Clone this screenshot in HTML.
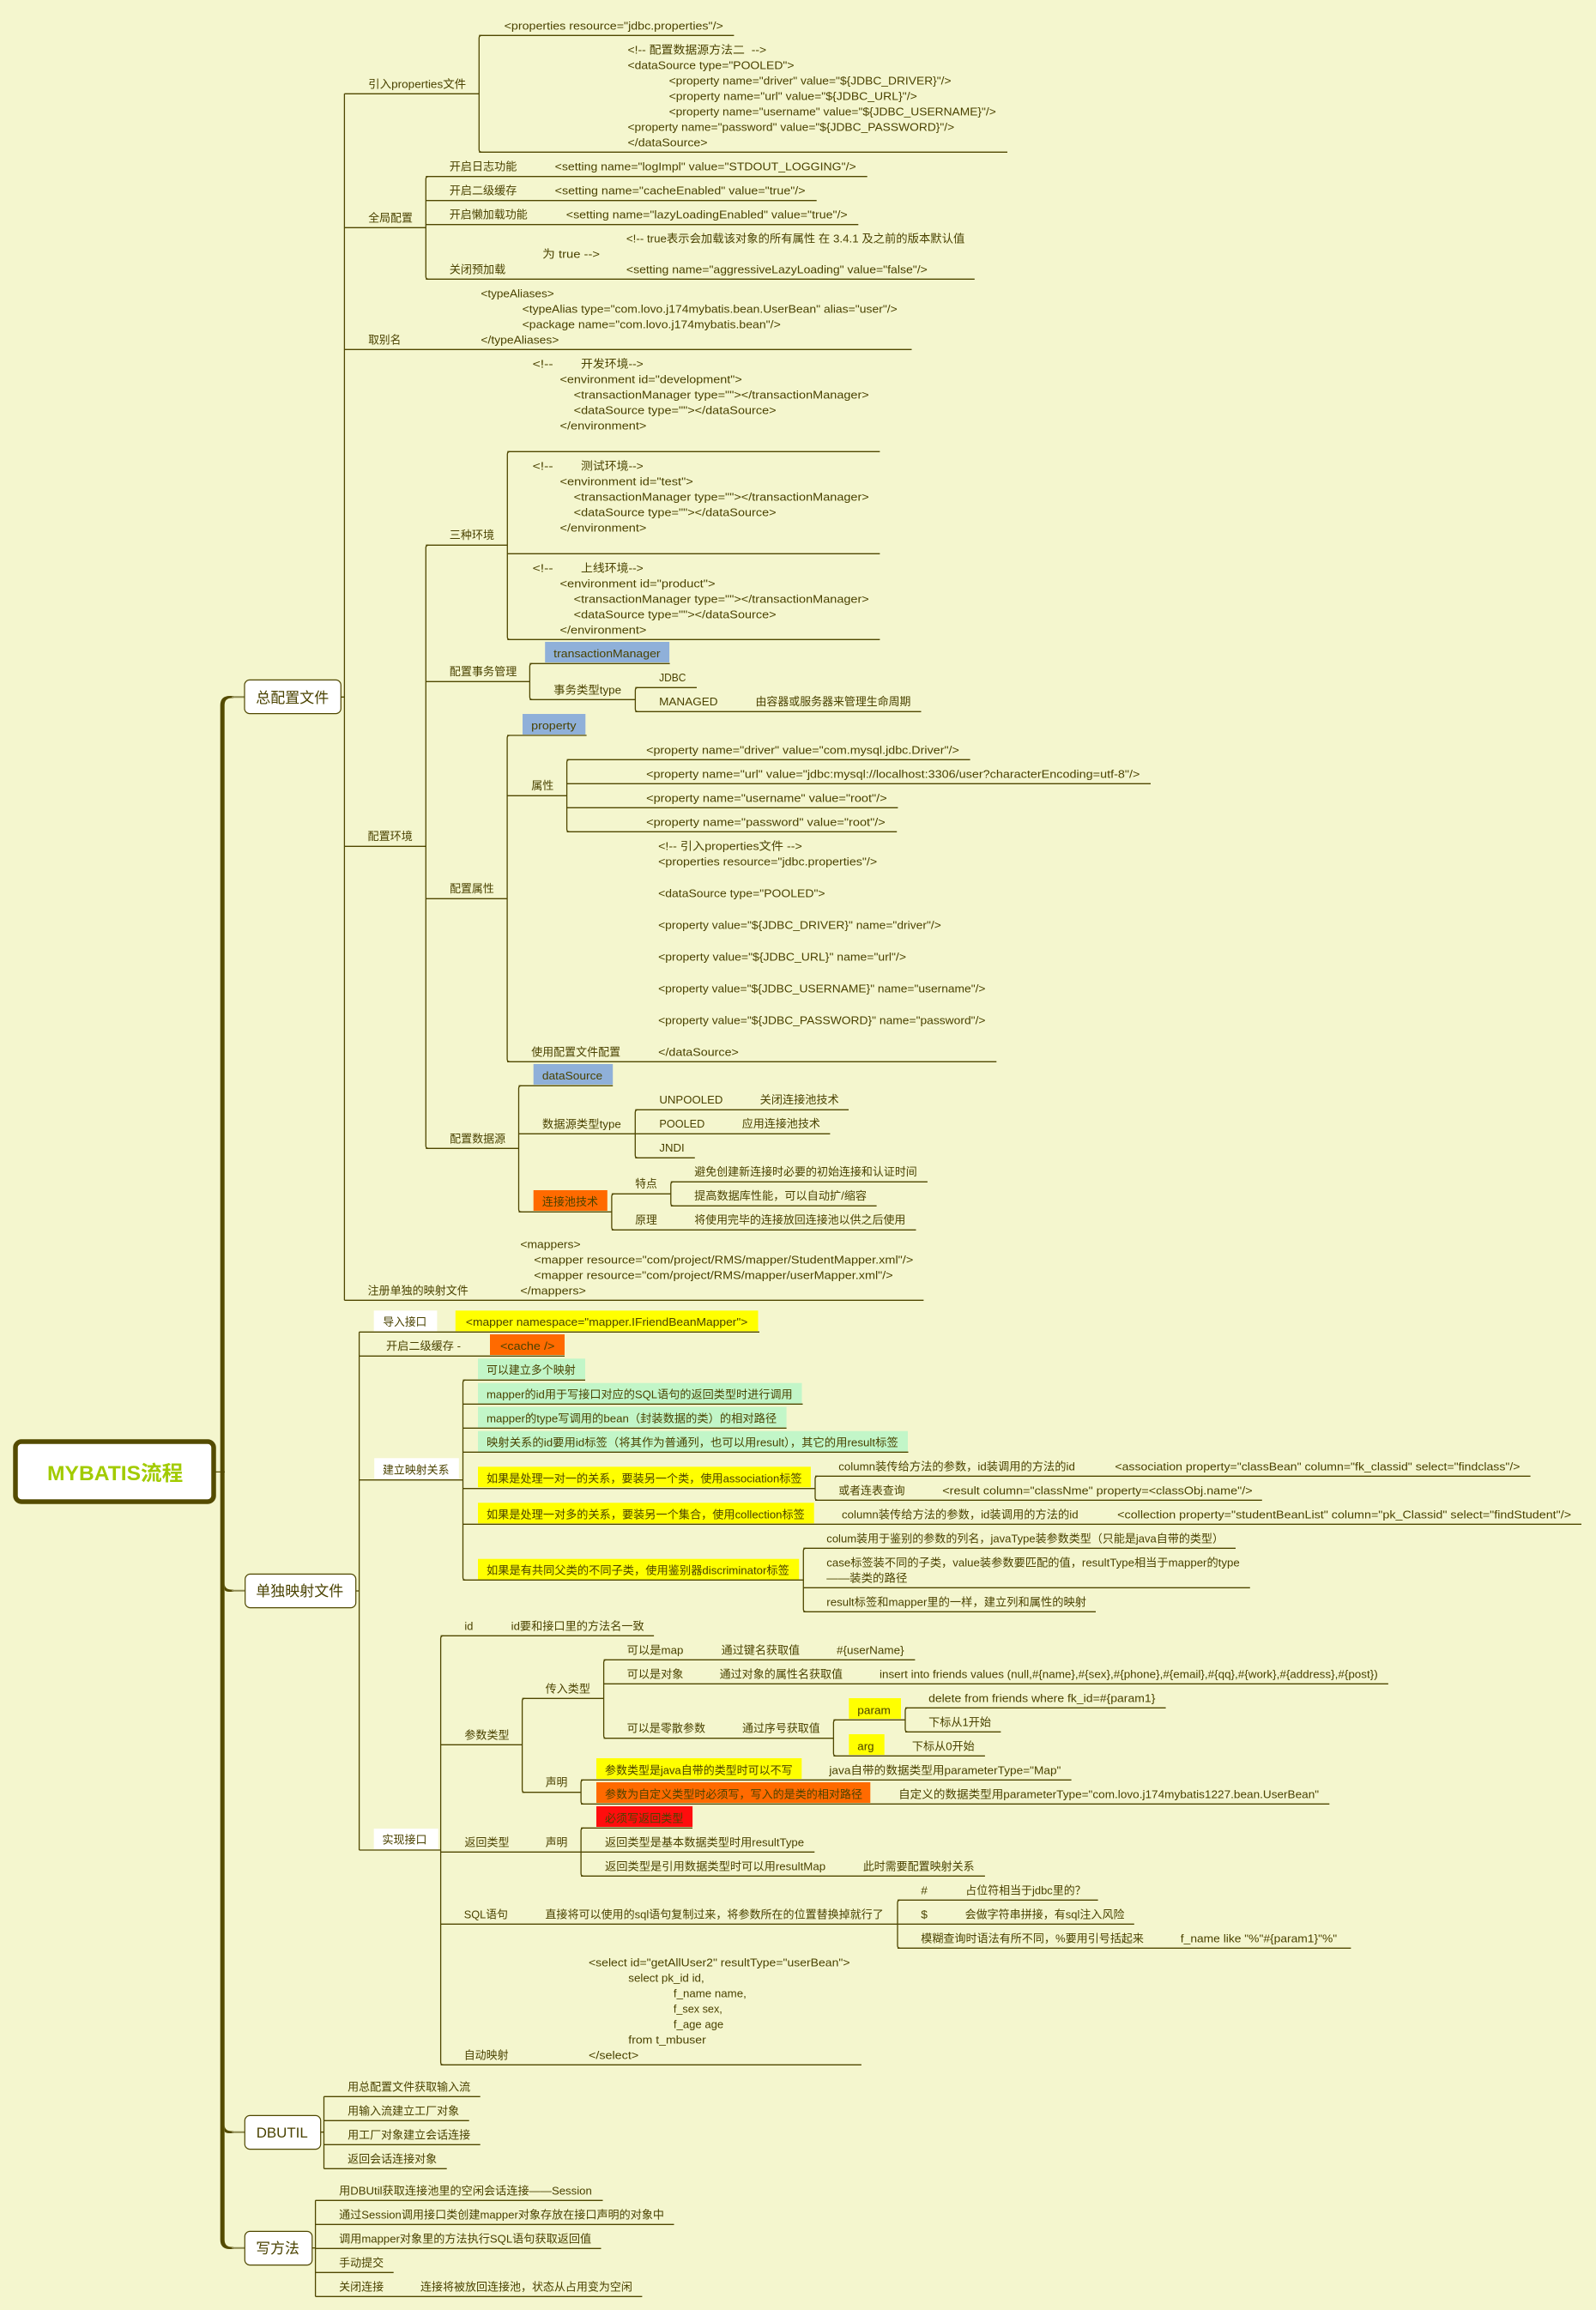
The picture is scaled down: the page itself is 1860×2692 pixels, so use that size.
<!DOCTYPE html>
<html lang="zh">
<head>
<meta charset="utf-8">
<title>MYBATIS流程</title>
<style>
html,body{margin:0;padding:0;background:#f4f6ce;}
svg{display:block;position:absolute;left:0;top:0;}
text{font-family:"Liberation Sans","Noto Sans CJK SC",sans-serif;font-size:13px;fill:#4a4200;}
.t{font-size:17px;}
.r{font-size:24px;font-weight:bold;fill:#a2cb00;}
</style>
</head>
<body>
<svg xmlns="http://www.w3.org/2000/svg" width="1860" height="2692" viewBox="0 0 1860 2692">
<rect width="1860" height="2692" fill="#f4f6ce"/>

<!-- thick main trunk -->
<path d="M256.7 822Q256.7 811 268 811L272 811V813.5L270 813.5Q261.7 813.5 261.7 822V2610Q261.7 2618.5 270 2618.5L272 2618.5V2621L268 2621Q256.7 2621 256.7 2610Z" fill="#544b00"/>
<path d="M261.7 1845Q261.7 1852.5 270 1852.5L272 1852.5V1855L268 1855Q261.7 1855 261.7 1852ZM261.7 2476Q261.7 2483.5 270 2483.5L272 2483.5V2486L268 2486Q261.7 2486 261.7 2483Z" fill="#544b00"/>
<path d="M270 812.2H285M270 1853.7H286M270 2484.7H285M270 2619.7H285" stroke="#8b8850" stroke-width="2" fill="none"/>

<!-- root -->
<rect x="18" y="1680" width="231" height="70" rx="7" fill="#fff" stroke="#544b00" stroke-width="5.5"/>
<path d="M251 1715.3H262" stroke="#4f4700" stroke-width="1.2" fill="none"/>
<text class="r" x="55" y="1725" textLength="158.3" lengthAdjust="spacingAndGlyphs">MYBATIS流程</text>

<!-- main boxes -->
<g fill="#fff" stroke="#4f4700" stroke-width="1.2">
<rect x="285" y="792.4" width="112.3" height="39.2" rx="6"/>
<rect x="285.7" y="1834.4" width="129" height="39.2" rx="6"/>
<rect x="285.3" y="2465.4" width="88.4" height="39.2" rx="6"/>
<rect x="285.3" y="2600.4" width="78.5" height="39.2" rx="6"/>
</g>

<!-- filled label boxes -->
<g fill="#8fb0d9">
<rect x="635.2" y="748" width="144.9" height="24"/>
<rect x="609" y="832" width="73.3" height="24"/>
<rect x="621.7" y="1240" width="92.5" height="24"/>
</g>
<g fill="#ff6a00">
<rect x="621.7" y="1387" width="86.1" height="24"/>
<rect x="571" y="1555" width="87" height="24"/>
<rect x="695" y="2077" width="319.3" height="24"/>
</g>
<g fill="#ffff00">
<rect x="530.8" y="1527.3" width="352.7" height="24"/>
<rect x="557" y="1709.3" width="387.9" height="24"/>
<rect x="557" y="1751.3" width="391.7" height="24"/>
<rect x="557" y="1816.7" width="374.2" height="24"/>
<rect x="989.3" y="1979" width="60.7" height="24"/>
<rect x="989.3" y="2021" width="41.4" height="24"/>
<rect x="695" y="2049" width="239.3" height="24"/>
</g>
<g fill="#c2f6c8">
<rect x="557" y="1583.3" width="125" height="24"/>
<rect x="557" y="1611.7" width="377.5" height="24"/>
<rect x="557" y="1639.5" width="359.6" height="24"/>
<rect x="557" y="1667.7" width="501" height="24"/>
</g>
<rect x="695" y="2105" width="112.1" height="24" fill="#ff0d0d"/>
<g fill="#fff">
<rect x="435.7" y="1527.3" width="73.7" height="24"/>
<rect x="436.2" y="1699.3" width="98.6" height="24"/>
<rect x="435.7" y="2131" width="75" height="24"/>
</g>

<!-- connectors -->
<g fill="none" stroke="#4f4700" stroke-width="1.3">
<!-- box stubs and square trunks -->
<path d="M397.3 812.3H401.4M414.7 1854H418.5M373.7 2484.7H377.5M363.8 2619.7H367.6"/>
<path d="M401.4 109.3V1515.3M418.6 1552.3V2156M377.5 2443.3V2527.3M367.6 2564.3V2676.3"/>
<!-- level 1 total config -->
<path d="M401.4 109.3H558.3M401.4 265.3H496.3M401.4 407.3H1062.5M401.4 986.3H496.3M401.4 1515.3H1076.4"/>
<!-- rounded trunks -->
<path d="M561.3 41.3Q558.3 41.3 558.3 44.3V174.3Q558.3 177.3 561.3 177.3"/>
<path d="M499.3 205.7Q496.3 205.7 496.3 208.7V322.3Q496.3 325.3 499.3 325.3"/>
<path d="M499.3 635.3Q496.3 635.3 496.3 638.3V1335.3Q496.3 1338.3 499.3 1338.3"/>
<path d="M594.3 526.3Q591.3 526.3 591.3 529.3V742.3Q591.3 745.3 594.3 745.3"/>
<path d="M620.4 773.3Q617.4 773.3 617.4 776.3V812.3Q617.4 815.3 620.4 815.3"/>
<path d="M743.4 801.3Q740.4 801.3 740.4 804.3V826.3Q740.4 829.3 743.4 829.3"/>
<path d="M594.1 857Q591.1 857 591.1 860V1234.3Q591.1 1237.3 594.1 1237.3"/>
<path d="M663.6 885.3Q660.6 885.3 660.6 888.3V966.3Q660.6 969.3 663.6 969.3"/>
<path d="M607.5 1265.3Q604.5 1265.3 604.5 1268.3V1409.3Q604.5 1412.3 607.5 1412.3"/>
<path d="M743.3 1293.3Q740.3 1293.3 740.3 1296.3V1346.3Q740.3 1349.3 743.3 1349.3"/>
<path d="M715.9 1391.3Q712.9 1391.3 712.9 1394.3V1430.3Q712.9 1433.3 715.9 1433.3"/>
<path d="M784.8 1377.3Q781.8 1377.3 781.8 1380.3V1402.3Q781.8 1405.3 784.8 1405.3"/>
<path d="M542.5 1608.3Q539.5 1608.3 539.5 1611.3V1838.3Q539.5 1841.3 542.5 1841.3"/>
<path d="M953 1720.3Q950 1720.3 950 1723.3V1745.3Q950 1748.3 953 1748.3"/>
<path d="M939.3 1804.3Q936.3 1804.3 936.3 1807.3V1875.3Q936.3 1878.3 939.3 1878.3"/>
<path d="M516.6 1906.3Q513.6 1906.3 513.6 1909.3V2403.3Q513.6 2406.3 516.6 2406.3"/>
<path d="M611.6 1979.3Q608.6 1979.3 608.6 1982.3V2085.7Q608.6 2088.7 611.6 2088.7"/>
<path d="M706.6 1934.3Q703.6 1934.3 703.6 1937.3V2022.7Q703.6 2025.7 706.6 2025.7"/>
<path d="M974.4 2004.3Q971.4 2004.3 971.4 2007.3V2043.3Q971.4 2046.3 974.4 2046.3"/>
<path d="M1058 1990.3Q1055 1990.3 1055 1993.3V2015.3Q1055 2018.3 1058 2018.3"/>
<path d="M680.1 2074.3Q677.1 2074.3 677.1 2077.3V2099.3Q677.1 2102.3 680.1 2102.3"/>
<path d="M680.1 2130.3Q677.1 2130.3 677.1 2133.3V2183.3Q677.1 2186.3 680.1 2186.3"/>
<path d="M1049 2214.3Q1046 2214.3 1046 2217.3V2267.3Q1046 2270.3 1049 2270.3"/>
<!-- horizontals -->
<path d="M558.3 41.3H855.4M558.3 177.3H1174"/>
<path d="M496.3 205.7H1010.7M496.3 233.7H951.7M496.3 261.7H1000.3M496.3 325.3H1135.8"/>
<path d="M496.3 635.3H591.3M591.3 526.3H1025.4M591.3 645.3H1025.4M591.3 745.3H1025.4"/>
<path d="M496.3 794.3H617.4M617.4 773.3H780.6M617.4 815.3H740.4M740.4 801.3H812M740.4 829.3H1073.5"/>
<path d="M496.3 1047.3H591.1M591.1 857H683.6M591.1 927.3H660.6M660.6 885.3H1130.6M660.6 913.3H1341M660.6 941.3H1046.4M660.6 969.3H1045.2M591.1 1237.3H1161.3"/>
<path d="M496.3 1338.3H604.5M604.5 1265.3H714.2M604.5 1321.3H740.3M740.3 1293.3H989M740.3 1321.3H967.4M740.3 1349.3H809.8"/>
<path d="M604.5 1412.3H712.9M712.9 1391.3H781.8M781.8 1377.3H1080.9M781.8 1405.3H1021.6M712.9 1433.3H1067.5"/>
<path d="M418.6 1552.3H885M418.6 1580.3H658M418.6 1724.7H539.5"/>
<path d="M539.5 1608.3H682M539.5 1636.3H935.5M539.5 1664.3H916.6M539.5 1692.3H1058.5M539.5 1734.7H950M539.5 1776.3H1843M539.5 1841.3H936.3"/>
<path d="M950 1720.3H1783.6M950 1748.3H1470.8M936.3 1804.3H1440M936.3 1850.3H1456.8M936.3 1878.3H1277"/>
<path d="M418.6 2156H513.6"/>
<path d="M513.6 1906.3H762.1M513.6 2033.3H608.6M608.6 1979.3H703.6M703.6 1934.3H1066.4M703.6 1962.3H1617.9M703.6 2025.7H971.4M971.4 2004.3H1055M1055 1990.3H1358.6M1055 2018.3H1166.4M971.4 2046.3H1147.9"/>
<path d="M608.6 2088.7H677.1M677.1 2074.3H1248.6M677.1 2102.3H1549.3M677.1 2130.3H807M513.6 2158.3H949.3M677.1 2186.3H1147.9"/>
<path d="M513.6 2242.3H1046M1046 2214.3H1279.6M1046 2242.3H1321.8M1046 2270.3H1574.4M513.6 2406.3H1003.9"/>
<path d="M377.5 2443.3H559.7M377.5 2471.3H546.7M377.5 2499.3H559.7M377.5 2527.3H520.7"/>
<path d="M367.6 2564.3H702.5M367.6 2592.3H785.5M367.6 2620.3H700.5M367.6 2648.3H458.7M367.6 2676.3H748.4"/>
</g>

<!-- main labels -->
<text class="t" x="298.3" y="819" textLength="85" lengthAdjust="spacingAndGlyphs">总配置文件</text>
<text class="t" x="298.3" y="1860" textLength="102" lengthAdjust="spacingAndGlyphs">单独映射文件</text>
<text class="t" x="298.7" y="2491" textLength="60.1" lengthAdjust="spacingAndGlyphs">DBUTIL</text>
<text class="t" x="298.3" y="2626" textLength="50.5" lengthAdjust="spacingAndGlyphs">写方法</text>

<!-- section 1 -->
<text x="587.6" y="34.3" textLength="255.3" lengthAdjust="spacingAndGlyphs">&lt;properties resource="jdbc.properties"/&gt;</text>
<text x="429.2" y="102.3" textLength="114" lengthAdjust="spacingAndGlyphs">引入properties文件</text>
<text x="731.5" y="62.3" textLength="161.6" lengthAdjust="spacingAndGlyphs">&lt;!-- 配置数据源方法二 &#160;--&gt;</text>
<text x="731.5" y="80.3" textLength="194" lengthAdjust="spacingAndGlyphs">&lt;dataSource type="POOLED"&gt;</text>
<text x="779.6" y="98.3" textLength="329" lengthAdjust="spacingAndGlyphs">&lt;property name="driver" value="${JDBC_DRIVER}"/&gt;</text>
<text x="779.6" y="116.3" textLength="289.2" lengthAdjust="spacingAndGlyphs">&lt;property name="url" value="${JDBC_URL}"/&gt;</text>
<text x="779.6" y="134.3" textLength="381.2" lengthAdjust="spacingAndGlyphs">&lt;property name="username" value="${JDBC_USERNAME}"/&gt;</text>
<text x="731.5" y="152.3" textLength="380.7" lengthAdjust="spacingAndGlyphs">&lt;property name="password" value="${JDBC_PASSWORD}"/&gt;</text>
<text x="731.5" y="170.3" textLength="93.1" lengthAdjust="spacingAndGlyphs">&lt;/dataSource&gt;</text>

<text x="429.2" y="258.3" textLength="51.7" lengthAdjust="spacingAndGlyphs">全局配置</text>
<text x="523.8" y="198.3" textLength="78.5" lengthAdjust="spacingAndGlyphs">开启日志功能</text>
<text x="646.7" y="198.3" textLength="351" lengthAdjust="spacingAndGlyphs">&lt;setting name="logImpl" value="STDOUT_LOGGING"/&gt;</text>
<text x="523.8" y="226.3" textLength="78.5" lengthAdjust="spacingAndGlyphs">开启二级缓存</text>
<text x="646.7" y="226.3" textLength="291.9" lengthAdjust="spacingAndGlyphs">&lt;setting name="cacheEnabled" value="true"/&gt;</text>
<text x="523.8" y="254.3" textLength="91" lengthAdjust="spacingAndGlyphs">开启懒加载功能</text>
<text x="659.8" y="254.3" textLength="327.9" lengthAdjust="spacingAndGlyphs">&lt;setting name="lazyLoadingEnabled" value="true"/&gt;</text>
<text x="729.9" y="282.3" textLength="394.4" lengthAdjust="spacingAndGlyphs">&lt;!-- true表示会加载该对象的所有属性 在 3.4.1 及之前的版本默认值</text>
<text x="632.1" y="300.3" textLength="66.9" lengthAdjust="spacingAndGlyphs">为 true --&gt;</text>
<text x="523.8" y="318.3" textLength="65.4" lengthAdjust="spacingAndGlyphs">关闭预加载</text>
<text x="729.9" y="318.3" textLength="350.9" lengthAdjust="spacingAndGlyphs">&lt;setting name="aggressiveLazyLoading" value="false"/&gt;</text>

<text x="560.4" y="346.3" textLength="85.3" lengthAdjust="spacingAndGlyphs">&lt;typeAliases&gt;</text>
<text x="608.6" y="364.3" textLength="437.2" lengthAdjust="spacingAndGlyphs">&lt;typeAlias type="com.lovo.j174mybatis.bean.UserBean" alias="user"/&gt;</text>
<text x="608.6" y="382.3" textLength="301.2" lengthAdjust="spacingAndGlyphs">&lt;package name="com.lovo.j174mybatis.bean"/&gt;</text>
<text x="429.2" y="400.3" textLength="38.1" lengthAdjust="spacingAndGlyphs">取别名</text>
<text x="560.4" y="400.3" textLength="91" lengthAdjust="spacingAndGlyphs">&lt;/typeAliases&gt;</text>

<text x="620.6" y="428.3" textLength="24" lengthAdjust="spacingAndGlyphs">&lt;!--</text>
<text x="677" y="428.3" textLength="72.8" lengthAdjust="spacingAndGlyphs">开发环境--&gt;</text>
<text x="652.5" y="446.3" textLength="212.3" lengthAdjust="spacingAndGlyphs">&lt;environment id="development"&gt;</text>
<text x="668.7" y="464.3" textLength="344.1" lengthAdjust="spacingAndGlyphs">&lt;transactionManager type=""&gt;&lt;/transactionManager&gt;</text>
<text x="668.7" y="482.3" textLength="235.9" lengthAdjust="spacingAndGlyphs">&lt;dataSource type=""&gt;&lt;/dataSource&gt;</text>
<text x="652.5" y="500.3" textLength="100.9" lengthAdjust="spacingAndGlyphs">&lt;/environment&gt;</text>

<text x="620.6" y="547.3" textLength="24" lengthAdjust="spacingAndGlyphs">&lt;!--</text>
<text x="677" y="547.3" textLength="72.8" lengthAdjust="spacingAndGlyphs">测试环境--&gt;</text>
<text x="652.5" y="565.3" textLength="155.3" lengthAdjust="spacingAndGlyphs">&lt;environment id="test"&gt;</text>
<text x="668.7" y="583.3" textLength="344.1" lengthAdjust="spacingAndGlyphs">&lt;transactionManager type=""&gt;&lt;/transactionManager&gt;</text>
<text x="668.7" y="601.3" textLength="235.9" lengthAdjust="spacingAndGlyphs">&lt;dataSource type=""&gt;&lt;/dataSource&gt;</text>
<text x="652.5" y="619.3" textLength="100.9" lengthAdjust="spacingAndGlyphs">&lt;/environment&gt;</text>
<text x="523.8" y="628" textLength="52.3" lengthAdjust="spacingAndGlyphs">三种环境</text>

<text x="620.6" y="666.3" textLength="24" lengthAdjust="spacingAndGlyphs">&lt;!--</text>
<text x="677" y="666.3" textLength="72.8" lengthAdjust="spacingAndGlyphs">上线环境--&gt;</text>
<text x="652.5" y="684.3" textLength="181" lengthAdjust="spacingAndGlyphs">&lt;environment id="product"&gt;</text>
<text x="668.7" y="702.3" textLength="344.1" lengthAdjust="spacingAndGlyphs">&lt;transactionManager type=""&gt;&lt;/transactionManager&gt;</text>
<text x="668.7" y="720.3" textLength="235.9" lengthAdjust="spacingAndGlyphs">&lt;dataSource type=""&gt;&lt;/dataSource&gt;</text>
<text x="652.5" y="738.3" textLength="100.9" lengthAdjust="spacingAndGlyphs">&lt;/environment&gt;</text>

<text x="645.2" y="766" textLength="124.4" lengthAdjust="spacingAndGlyphs">transactionManager</text>
<text x="523.8" y="787" textLength="78.5" lengthAdjust="spacingAndGlyphs">配置事务管理</text>
<text x="645.2" y="808.3" textLength="78.9" lengthAdjust="spacingAndGlyphs">事务类型type</text>
<text x="768.1" y="794" textLength="31.4" lengthAdjust="spacingAndGlyphs">JDBC</text>
<text x="768.1" y="822" textLength="68.5" lengthAdjust="spacingAndGlyphs">MANAGED</text>
<text x="880.5" y="822" textLength="181" lengthAdjust="spacingAndGlyphs">由容器或服务器来管理生命周期</text>

<text x="619.2" y="850" textLength="52.3" lengthAdjust="spacingAndGlyphs">property</text>
<text x="753.1" y="878.3" textLength="364.8" lengthAdjust="spacingAndGlyphs">&lt;property name="driver" value="com.mysql.jdbc.Driver"/&gt;</text>
<text x="753.1" y="906.3" textLength="575.3" lengthAdjust="spacingAndGlyphs">&lt;property name="url" value="jdbc:mysql://localhost:3306/user?characterEncoding=utf-8"/&gt;</text>
<text x="619.2" y="920" textLength="26.1" lengthAdjust="spacingAndGlyphs">属性</text>
<text x="753.1" y="934.3" textLength="280.6" lengthAdjust="spacingAndGlyphs">&lt;property name="username" value="root"/&gt;</text>
<text x="753.1" y="962.3" textLength="278.7" lengthAdjust="spacingAndGlyphs">&lt;property name="password" value="root"/&gt;</text>
<text x="428.5" y="979" textLength="52.3" lengthAdjust="spacingAndGlyphs">配置环境</text>
<text x="767.1" y="990.3" textLength="167.7" lengthAdjust="spacingAndGlyphs">&lt;!-- 引入properties文件 --&gt;</text>
<text x="767.1" y="1008.3" textLength="255.1" lengthAdjust="spacingAndGlyphs">&lt;properties resource="jdbc.properties"/&gt;</text>
<text x="524.1" y="1040" textLength="51.7" lengthAdjust="spacingAndGlyphs">配置属性</text>
<text x="767.1" y="1045.3" textLength="194.5" lengthAdjust="spacingAndGlyphs">&lt;dataSource type="POOLED"&gt;</text>
<text x="767.1" y="1082.3" textLength="329.7" lengthAdjust="spacingAndGlyphs">&lt;property value="${JDBC_DRIVER}" name="driver"/&gt;</text>
<text x="767.1" y="1119.3" textLength="288.9" lengthAdjust="spacingAndGlyphs">&lt;property value="${JDBC_URL}" name="url"/&gt;</text>
<text x="767.1" y="1156.3" textLength="381.4" lengthAdjust="spacingAndGlyphs">&lt;property value="${JDBC_USERNAME}" name="username"/&gt;</text>
<text x="767.1" y="1193.3" textLength="381.4" lengthAdjust="spacingAndGlyphs">&lt;property value="${JDBC_PASSWORD}" name="password"/&gt;</text>
<text x="619.2" y="1230.3" textLength="103.9" lengthAdjust="spacingAndGlyphs">使用配置文件配置</text>
<text x="767.1" y="1230.3" textLength="93.8" lengthAdjust="spacingAndGlyphs">&lt;/dataSource&gt;</text>

<text x="631.9" y="1258" textLength="70.2" lengthAdjust="spacingAndGlyphs">dataSource</text>
<text x="768.4" y="1286" textLength="74" lengthAdjust="spacingAndGlyphs">UNPOOLED</text>
<text x="885.7" y="1286" textLength="91.9" lengthAdjust="spacingAndGlyphs">关闭连接池技术</text>
<text x="631.9" y="1314.3" textLength="91.9" lengthAdjust="spacingAndGlyphs">数据源类型type</text>
<text x="768.4" y="1314" textLength="52.9" lengthAdjust="spacingAndGlyphs">POOLED</text>
<text x="864.7" y="1314" textLength="91.2" lengthAdjust="spacingAndGlyphs">应用连接池技术</text>
<text x="524.1" y="1331.3" textLength="65.1" lengthAdjust="spacingAndGlyphs">配置数据源</text>
<text x="768.4" y="1342" textLength="29.3" lengthAdjust="spacingAndGlyphs">JNDI</text>
<text x="809.2" y="1370" textLength="259.6" lengthAdjust="spacingAndGlyphs">避免创建新连接时必要的初始连接和认证时间</text>
<text x="740.3" y="1384" textLength="25.5" lengthAdjust="spacingAndGlyphs">特点</text>
<text x="809.2" y="1398" textLength="200.9" lengthAdjust="spacingAndGlyphs">提高数据库性能，可以自动扩/缩容</text>
<text x="631.9" y="1405" textLength="65.1" lengthAdjust="spacingAndGlyphs">连接池技术</text>
<text x="740.3" y="1426" textLength="25.5" lengthAdjust="spacingAndGlyphs">原理</text>
<text x="809.2" y="1426" textLength="246.2" lengthAdjust="spacingAndGlyphs">将使用完毕的连接放回连接池以供之后使用</text>
<text x="606.4" y="1454.7" textLength="70.2" lengthAdjust="spacingAndGlyphs">&lt;mappers&gt;</text>
<text x="622.3" y="1472.7" textLength="442" lengthAdjust="spacingAndGlyphs">&lt;mapper resource="com/project/RMS/mapper/StudentMapper.xml"/&gt;</text>
<text x="622.3" y="1490.7" textLength="418.4" lengthAdjust="spacingAndGlyphs">&lt;mapper resource="com/project/RMS/mapper/userMapper.xml"/&gt;</text>
<text x="428.5" y="1508.7" textLength="117.3" lengthAdjust="spacingAndGlyphs">注册单独的映射文件</text>
<text x="606.4" y="1508.7" textLength="76.5" lengthAdjust="spacingAndGlyphs">&lt;/mappers&gt;</text>

<!-- section 2 -->
<text x="446.4" y="1545" textLength="50.9" lengthAdjust="spacingAndGlyphs">导入接口</text>
<text x="542.9" y="1545" textLength="328.5" lengthAdjust="spacingAndGlyphs">&lt;mapper namespace="mapper.IFriendBeanMapper"&gt;</text>
<text x="450" y="1573" textLength="87" lengthAdjust="spacingAndGlyphs">开启二级缓存 -</text>
<text x="583" y="1573" textLength="63.4" lengthAdjust="spacingAndGlyphs">&lt;cache /&gt;</text>
<text x="567" y="1601" textLength="103.7" lengthAdjust="spacingAndGlyphs">可以建立多个映射</text>
<text x="567" y="1629.3" textLength="356.6" lengthAdjust="spacingAndGlyphs">mapper的id用于写接口对应的SQL语句的返回类型时进行调用</text>
<text x="567" y="1657.3" textLength="338.2" lengthAdjust="spacingAndGlyphs">mapper的type写调用的bean（封装数据的类）的相对路径</text>
<text x="567" y="1685.3" textLength="479.8" lengthAdjust="spacingAndGlyphs">映射关系的id要用id标签（将其作为普通列，也可以用result），其它的用result标签</text>
<text x="446" y="1717.3" textLength="77.5" lengthAdjust="spacingAndGlyphs">建立映射关系</text>
<text x="567" y="1727.3" textLength="367.5" lengthAdjust="spacingAndGlyphs">如果是处理一对一的关系，要装另一个类，使用association标签</text>
<text x="977.3" y="1713.3" textLength="275.6" lengthAdjust="spacingAndGlyphs">column装传给方法的参数，id装调用的方法的id</text>
<text x="1299.4" y="1713.3" textLength="472.1" lengthAdjust="spacingAndGlyphs">&lt;association property="classBean" column="fk_classid" select="findclass"/&gt;</text>
<text x="977.3" y="1741.3" textLength="77.3" lengthAdjust="spacingAndGlyphs">或者连表查询</text>
<text x="1098.3" y="1741.3" textLength="361.3" lengthAdjust="spacingAndGlyphs">&lt;result column="classNme" property=&lt;classObj.name"/&gt;</text>
<text x="567" y="1769.3" textLength="370.8" lengthAdjust="spacingAndGlyphs">如果是处理一对多的关系，要装另一个集合，使用collection标签</text>
<text x="981" y="1769.3" textLength="275.6" lengthAdjust="spacingAndGlyphs">column装传给方法的参数，id装调用的方法的id</text>
<text x="1302.2" y="1769.3" textLength="528.9" lengthAdjust="spacingAndGlyphs">&lt;collection property="studentBeanList" column="pk_Classid" select="findStudent"/&gt;</text>
<text x="963.3" y="1797.3" textLength="462.7" lengthAdjust="spacingAndGlyphs">colum装用于鉴别的参数的列名，javaType装参数类型（只能是java自带的类型）</text>
<text x="963.3" y="1825.3" textLength="481.4" lengthAdjust="spacingAndGlyphs">case标签装不同的子类，value装参数要匹配的值，resultType相当于mapper的type</text>
<text x="567" y="1834.7" textLength="352.9" lengthAdjust="spacingAndGlyphs">如果是有共同父类的不同子类，使用鉴别器discriminator标签</text>
<text x="963.3" y="1843.3" textLength="94.1" lengthAdjust="spacingAndGlyphs">——装类的路径</text>
<text x="963.3" y="1871.3" textLength="302.7" lengthAdjust="spacingAndGlyphs">result标签和mapper里的一样，建立列和属性的映射</text>

<text x="541.4" y="1899.3" textLength="10" lengthAdjust="spacingAndGlyphs">id</text>
<text x="595.7" y="1899.3" textLength="155" lengthAdjust="spacingAndGlyphs">id要和接口里的方法名一致</text>
<text x="730.7" y="1927.3" textLength="65.7" lengthAdjust="spacingAndGlyphs">可以是map</text>
<text x="840.7" y="1927.3" textLength="91.4" lengthAdjust="spacingAndGlyphs">通过键名获取值</text>
<text x="975" y="1927.3" textLength="78.6" lengthAdjust="spacingAndGlyphs">#{userName}</text>
<text x="730.7" y="1955.3" textLength="65.7" lengthAdjust="spacingAndGlyphs">可以是对象</text>
<text x="838.6" y="1955.3" textLength="143.5" lengthAdjust="spacingAndGlyphs">通过对象的属性名获取值</text>
<text x="1025" y="1955.3" textLength="580.7" lengthAdjust="spacingAndGlyphs">insert into friends values (null,#{name},#{sex},#{phone},#{email},#{qq},#{work},#{address},#{post})</text>
<text x="635.7" y="1972.3" textLength="52.2" lengthAdjust="spacingAndGlyphs">传入类型</text>
<text x="1082.1" y="1983.3" textLength="264.3" lengthAdjust="spacingAndGlyphs">delete from friends where fk_id=#{param1}</text>
<text x="999.3" y="1997.3" textLength="38.6" lengthAdjust="spacingAndGlyphs">param</text>
<text x="1082.1" y="2011.3" textLength="72.9" lengthAdjust="spacingAndGlyphs">下标从1开始</text>
<text x="730.7" y="2018.7" textLength="91.4" lengthAdjust="spacingAndGlyphs">可以是零散参数</text>
<text x="865" y="2018.7" textLength="90.7" lengthAdjust="spacingAndGlyphs">通过序号获取值</text>
<text x="541.4" y="2026.3" textLength="52.2" lengthAdjust="spacingAndGlyphs">参数类型</text>
<text x="999.3" y="2039.3" textLength="19.3" lengthAdjust="spacingAndGlyphs">arg</text>
<text x="1062.9" y="2039.3" textLength="72.8" lengthAdjust="spacingAndGlyphs">下标从0开始</text>
<text x="705" y="2067.3" textLength="218.6" lengthAdjust="spacingAndGlyphs">参数类型是java自带的类型时可以不写</text>
<text x="966.4" y="2067.3" textLength="270" lengthAdjust="spacingAndGlyphs">java自带的数据类型用parameterType="Map"</text>
<text x="635.7" y="2081.7" textLength="25.7" lengthAdjust="spacingAndGlyphs">声明</text>
<text x="705" y="2095.3" textLength="300" lengthAdjust="spacingAndGlyphs">参数为自定义类型时必须写，写入的是类的相对路径</text>
<text x="1047.1" y="2095.3" textLength="490" lengthAdjust="spacingAndGlyphs">自定义的数据类型用parameterType="com.lovo.j174mybatis1227.bean.UserBean"</text>
<text x="705" y="2123.3" textLength="91.4" lengthAdjust="spacingAndGlyphs">必须写返回类型</text>
<text x="445.5" y="2148.5" textLength="52" lengthAdjust="spacingAndGlyphs">实现接口</text>
<text x="541.4" y="2151.3" textLength="52.2" lengthAdjust="spacingAndGlyphs">返回类型</text>
<text x="635.7" y="2151.3" textLength="25.7" lengthAdjust="spacingAndGlyphs">声明</text>
<text x="705" y="2151.3" textLength="232.1" lengthAdjust="spacingAndGlyphs">返回类型是基本数据类型时用resultType</text>
<text x="705" y="2179.3" textLength="257.1" lengthAdjust="spacingAndGlyphs">返回类型是引用数据类型时可以用resultMap</text>
<text x="1005.7" y="2179.3" textLength="130" lengthAdjust="spacingAndGlyphs">此时需要配置映射关系</text>
<text x="1073.3" y="2207.3" textLength="7.7" lengthAdjust="spacingAndGlyphs">#</text>
<text x="1125.3" y="2207.3" textLength="140.3" lengthAdjust="spacingAndGlyphs">占位符相当于jdbc里的？</text>
<text x="540.7" y="2235.3" textLength="51.2" lengthAdjust="spacingAndGlyphs">SQL语句</text>
<text x="635.4" y="2235.3" textLength="394.4" lengthAdjust="spacingAndGlyphs">直接将可以使用的sql语句复制过来，将参数所在的位置替换掉就行了</text>
<text x="1073.3" y="2235.3" textLength="7.7" lengthAdjust="spacingAndGlyphs">$</text>
<text x="1124.6" y="2235.3" textLength="185.9" lengthAdjust="spacingAndGlyphs">会做字符串拼接，有sql注入风险</text>
<text x="1073.3" y="2263.3" textLength="259.7" lengthAdjust="spacingAndGlyphs">模糊查询时语法有所不同，%要用引号括起来</text>
<text x="1375.8" y="2263.3" textLength="182.4" lengthAdjust="spacingAndGlyphs">f_name like "%"#{param1}"%"</text>
<text x="686" y="2291.7" textLength="304.5" lengthAdjust="spacingAndGlyphs">&lt;select id="getAllUser2" resultType="userBean"&gt;</text>
<text x="732.3" y="2309.7" textLength="88.4" lengthAdjust="spacingAndGlyphs">select pk_id id,</text>
<text x="784.9" y="2327.7" textLength="84.9" lengthAdjust="spacingAndGlyphs">f_name name,</text>
<text x="784.9" y="2345.7" textLength="56.9" lengthAdjust="spacingAndGlyphs">f_sex sex,</text>
<text x="784.9" y="2363.7" textLength="58.3" lengthAdjust="spacingAndGlyphs">f_age age</text>
<text x="732.3" y="2381.7" textLength="90.5" lengthAdjust="spacingAndGlyphs">from t_mbuser</text>
<text x="540.7" y="2399.3" textLength="51.9" lengthAdjust="spacingAndGlyphs">自动映射</text>
<text x="686" y="2399.7" textLength="58.2" lengthAdjust="spacingAndGlyphs">&lt;/select&gt;</text>

<!-- section 3 -->
<text x="405.1" y="2436.3" textLength="143.1" lengthAdjust="spacingAndGlyphs">用总配置文件获取输入流</text>
<text x="405.1" y="2464.3" textLength="130.1" lengthAdjust="spacingAndGlyphs">用输入流建立工厂对象</text>
<text x="405.1" y="2492.3" textLength="143.1" lengthAdjust="spacingAndGlyphs">用工厂对象建立会话连接</text>
<text x="405.1" y="2520.3" textLength="104.1" lengthAdjust="spacingAndGlyphs">返回会话连接对象</text>

<!-- section 4 -->
<text x="395.1" y="2557.3" textLength="294.7" lengthAdjust="spacingAndGlyphs">用DBUtil获取连接池里的空闲会话连接——Session</text>
<text x="395.1" y="2585.3" textLength="378.9" lengthAdjust="spacingAndGlyphs">通过Session调用接口类创建mapper对象存放在接口声明的对象中</text>
<text x="395.1" y="2613.3" textLength="294" lengthAdjust="spacingAndGlyphs">调用mapper对象里的方法执行SQL语句获取返回值</text>
<text x="395.1" y="2641.3" textLength="52.1" lengthAdjust="spacingAndGlyphs">手动提交</text>
<text x="395.1" y="2669.3" textLength="52.1" lengthAdjust="spacingAndGlyphs">关闭连接</text>
<text x="490" y="2669.3" textLength="246.9" lengthAdjust="spacingAndGlyphs">连接将被放回连接池，状态从占用变为空闲</text>
</svg>
</body>
</html>
